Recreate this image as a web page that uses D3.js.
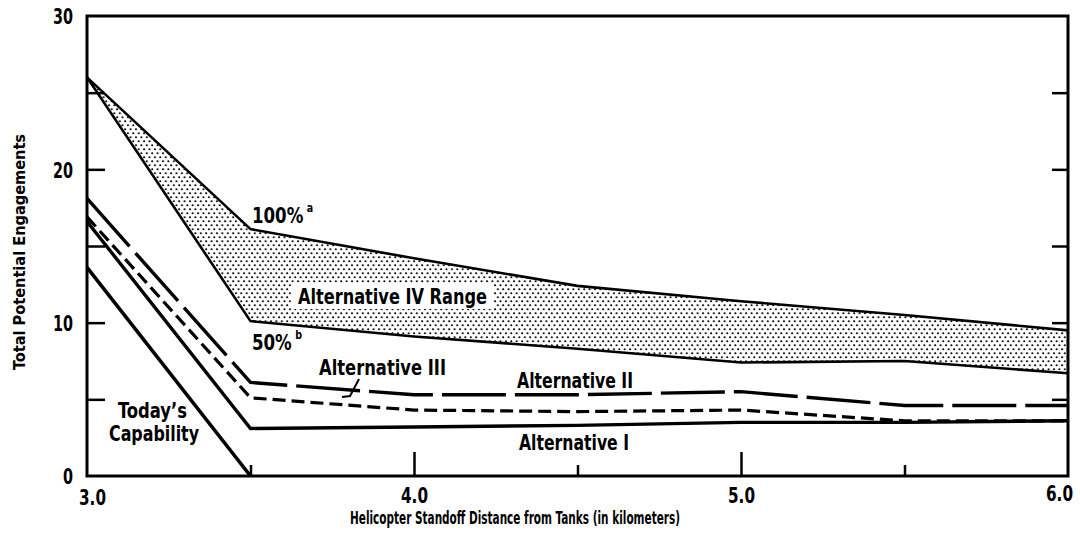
<!DOCTYPE html>
<html>
<head>
<meta charset="utf-8">
<script src="https://cdn.jsdelivr.net/npm/d3@7"></script>
<style>
  html, body { margin: 0; padding: 0; background: #fff; }
  #chart text { font-family: "Liberation Sans Narrow", "DejaVu Sans Condensed", "Roboto Condensed", sans-serif; font-weight: bold; fill: #000; }
</style>
</head>
<body>
<div id="chart"></div>
<script>
// standoff distance (km) and engagement counts
const distances = [3.0, 3.5, 4.0, 4.5, 5.0, 5.5, 6.0];
const altIVHigh = [26, 16.1, 14.2, 12.4, 11.4, 10.5, 9.5];
const altIVLow  = [26, 10.1, 9.1, 8.3, 7.4, 7.5, 6.7];
const altII     = [18.1, 6.1, 5.3, 5.3, 5.5, 4.6, 4.6];
const altIII    = [16.9, 5.1, 4.3, 4.2, 4.3, 3.6, 3.6];
const altI      = [16.6, 3.1, 3.2, 3.3, 3.5, 3.5, 3.6];
const todayDist = [3.0, 3.5];
const today     = [13.6, 0];

const yLabelTicks = [0, 10, 20, 30];
const yInnerTicks = [5, 10, 15, 20, 25];
const xLabelTicks = [3.0, 4.0, 5.0, 6.0];
const xMajorTicks = [4.0, 5.0];
const xMinorTicks = [3.5, 4.5, 5.5];

(function() {
    const width = 1080, height = 534;
    const margin = {top: 16, right: 12, bottom: 58, left: 87};

    const svg = d3.select("#chart").append("svg")
        .attr("width", width).attr("height", height);

    const x = d3.scaleLinear().domain([3, 6]).range([margin.left, width - margin.right]);
    const y = d3.scaleLinear().domain([0, 30]).range([height - margin.bottom, margin.top]);

    // stipple for the alternative IV band
    const defs = svg.append("defs");
    const pat = defs.append("pattern").attr("id", "dots")
        .attr("patternUnits", "userSpaceOnUse").attr("width", 5.4).attr("height", 8);
    pat.append("circle").attr("cx", 1).attr("cy", 1.2).attr("r", 1.05).attr("fill", "#000");
    pat.append("circle").attr("cx", 3.7).attr("cy", 5.2).attr("r", 1.05).attr("fill", "#000");

    const band = distances.map((d, i) => ({d, lo: altIVLow[i], hi: altIVHigh[i]}));
    svg.append("path")
        .datum(band)
        .attr("fill", "url(#dots)")
        .attr("d", d3.area().x(p => x(p.d)).y0(p => y(p.lo)).y1(p => y(p.hi)));

    // frame
    svg.append("rect")
        .attr("x", x(3)).attr("y", y(30))
        .attr("width", x(6) - x(3)).attr("height", y(0) - y(30))
        .attr("fill", "none").attr("stroke", "#000").attr("stroke-width", 3);

    // inward ticks
    const tickStyle = g => {
        g.select(".domain").remove();
        g.selectAll(".tick line").attr("stroke", "#000").attr("stroke-width", 2.5);
        g.selectAll(".tick text").remove();
    };
    svg.append("g").attr("transform", `translate(${x(3)},0)`)
        .call(d3.axisLeft(y).tickValues(yInnerTicks).tickSize(-18)).call(tickStyle);
    svg.append("g").attr("transform", `translate(${x(6)},0)`)
        .call(d3.axisRight(y).tickValues(yInnerTicks).tickSize(-16)).call(tickStyle);
    svg.append("g").attr("transform", `translate(0,${y(0)})`)
        .call(d3.axisBottom(x).tickValues(xMajorTicks).tickSize(-24)).call(tickStyle);
    svg.append("g").attr("transform", `translate(0,${y(0)})`)
        .call(d3.axisBottom(x).tickValues(xMinorTicks).tickSize(-11)).call(tickStyle);

    // tick labels
    const yAxis = svg.append("g").attr("transform", `translate(${x(3) - 14},0)`)
        .call(d3.axisLeft(y).tickValues(yLabelTicks).tickSize(0).tickFormat(d3.format("d")));
    yAxis.select(".domain").remove();
    yAxis.selectAll("text").style("font-size", "22px").attr("x", 0).attr("dy", "0.36em")
        .attr("textLength", d => d === 0 ? 10 : 20).attr("lengthAdjust", "spacingAndGlyphs");

    const xAxis = svg.append("g").attr("transform", `translate(0,${y(0)})`)
        .call(d3.axisBottom(x).tickValues(xLabelTicks).tickSize(0).tickFormat(d3.format(".1f")));
    xAxis.select(".domain").remove();
    xAxis.selectAll("text").style("font-size", "21px").attr("y", 12)
        .attr("textLength", 27).attr("lengthAdjust", "spacingAndGlyphs");
    xAxis.selectAll(".tick").filter(d => d === 3).select("text").attr("dx", 5).attr("y", 14);
    xAxis.selectAll(".tick").filter(d => d === 6).select("text").attr("dx", -9).attr("y", 10);

    // lines
    const line = d3.line().x(p => x(p[0])).y(p => y(p[1]));
    const pairs = (xs, ys) => xs.map((d, i) => [d, ys[i]]);

    const series = [
        {vals: altIVHigh, w: 2.6, dash: null},
        {vals: altIVLow, w: 2.6, dash: null},
        {vals: altIII, w: 3.2, dash: "13,6"},
        {vals: altI, w: 3.4, dash: null},
        {vals: altII, w: 3.4, dash: "64,9"}
    ];
    series.forEach(s => {
        svg.append("path")
            .datum(pairs(distances, s.vals))
            .attr("fill", "none").attr("stroke", "#000")
            .attr("stroke-width", s.w)
            .attr("stroke-dasharray", s.dash)
            .attr("d", line);
    });
    svg.append("path")
        .datum(pairs(todayDist, today))
        .attr("fill", "none").attr("stroke", "#000").attr("stroke-width", 3.6)
        .attr("d", line);

    // labels, squeezed to the widths in the figure
    const label = (tx, ty, txt, size, len) => {
        const t = svg.append("text")
            .attr("x", tx).attr("y", ty).style("font-size", size + "px").text(txt);
        if (len) t.attr("textLength", len).attr("lengthAdjust", "spacingAndGlyphs");
        return t;
    };
    // percentage labels with a footnote letter, narrowed with a scale
    const pctLabel = (tx, ty, main, sup) => {
        const t = svg.append("text")
            .attr("transform", `translate(${tx},${ty}) scale(0.88,1)`)
            .style("font-size", "21px");
        t.append("tspan").text(main);
        t.append("tspan").attr("dx", 4).attr("dy", -11).style("font-size", "12px").text(sup);
    };

    pctLabel(252, 223, "100%", "a");
    pctLabel(252, 350, "50%", "b");

    const ivText = label(298, 304, "Alternative IV Range", 22, 189);
    const bb = ivText.node().getBBox();
    svg.insert("rect", () => ivText.node())
        .attr("x", bb.x - 7).attr("y", bb.y)
        .attr("width", bb.width + 14).attr("height", bb.height)
        .attr("fill", "#fff");

    label(319, 375, "Alternative III", 22, 127);
    label(517, 388, "Alternative II", 22, 116);
    label(519, 450, "Alternative I", 22, 110);
    label(118, 418, "Today\u2019s", 22, 69);
    label(109, 441, "Capability", 22, 90);

    // leader from Alternative III label to its line
    svg.append("path")
        .attr("d", "M359,379 L350,396 L342,397")
        .attr("fill", "none").attr("stroke", "#000").attr("stroke-width", 2);

    // axis titles
    svg.append("text")
        .attr("x", 515).attr("y", 524)
        .attr("text-anchor", "middle")
        .style("font-size", "18px")
        .attr("textLength", 330).attr("lengthAdjust", "spacingAndGlyphs")
        .text("Helicopter Standoff Distance from Tanks (in kilometers)");

    svg.append("text")
        .attr("transform", "rotate(-90)")
        .attr("x", -252).attr("y", 25)
        .attr("text-anchor", "middle")
        .style("font-size", "16px")
        .attr("textLength", 236).attr("lengthAdjust", "spacingAndGlyphs")
        .text("Total Potential Engagements");
})();
</script>
</body>
</html>
